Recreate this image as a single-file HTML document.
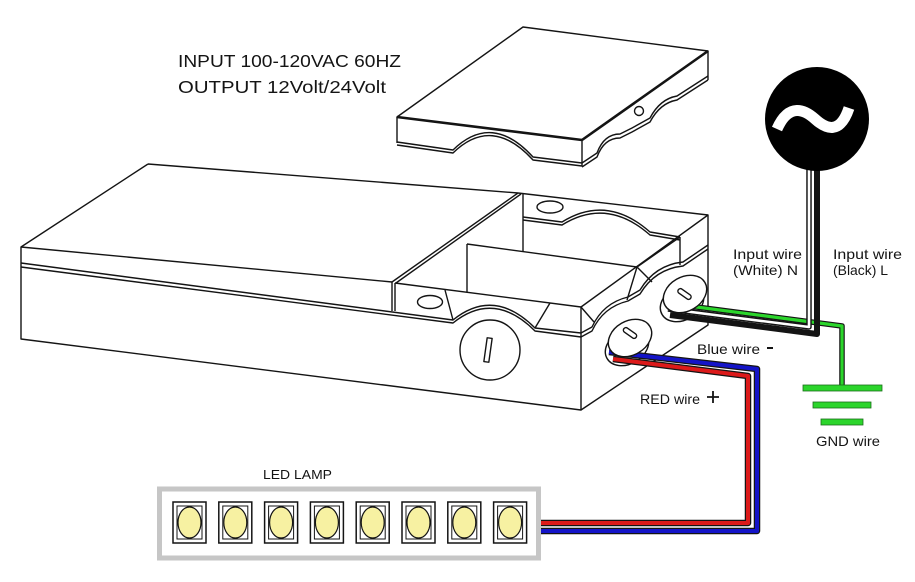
<!DOCTYPE html>
<html><head><meta charset="utf-8"><style>
html,body{margin:0;padding:0;background:#fff;}
svg{display:block;}
text{font-family:"Liberation Sans",sans-serif;fill:#141414;}
</style></head><body>
<svg width="915" height="582" viewBox="0 0 915 582" xmlns="http://www.w3.org/2000/svg">
<rect width="915" height="582" fill="#fff"/>

<!-- Header text -->
<text x="178" y="67" font-size="17.5" textLength="223" lengthAdjust="spacingAndGlyphs">INPUT 100-120VAC 60HZ</text>
<text x="178" y="93" font-size="17.5" textLength="208" lengthAdjust="spacingAndGlyphs">OUTPUT 12Volt/24Volt</text>

<g fill="none" stroke="#141414" stroke-width="1.4" stroke-linejoin="round">
<!-- Floating lid -->
<polygon points="397,117 523,27 708,51 582,140" fill="#fff"/>
<path d="M397,117 L582,140" stroke-width="2.6"/>
<path d="M582,140 L708,51" stroke-width="2.6"/>
<path d="M397,117 L397,143"/>
<path d="M397,142 L453,150 Q492,112 533,157 L582,163"/>
<path d="M397,145 L453,153 Q492,115 533,160 L582,166"/>
<path d="M582,140 L582,166"/>
<path d="M708,51 L708,80"/>
<path d="M582,163 L597,153 Q604,134 620,134 L632,128 L650,118 Q660,99 677,96 L708,76"/>
<path d="M582,167 L597,157 Q604,138 620,138 L632,132 L650,122 Q660,103 677,100 L708,80"/>
<circle cx="639" cy="111" r="4.5"/>

<!-- Main box -->
<path d="M148,164 L21,247 L21,339 L581,410 L708,325 L708,215 L518,193 L148,164"/>
<path d="M21,247 L392,282"/>
<path d="M21,263 L453,320 Q494,287 535,328 L581,333"/>
<path d="M21,267 L453,323 Q494,290 535,331 L581,337"/>
<path d="M392,282 L392,311"/>
<path d="M395,283 L395,311"/>
<path d="M392,282 L518,193"/>
<path d="M396,283 L521,194"/>
<path d="M395,283 L581,307"/>
<path d="M581,307 L581,410"/>
<path d="M581,307 L708,215"/>
<!-- back wall -->
<path d="M523,194 L523,251"/>
<path d="M523,217 L562,222 Q607,194 650,232 L680,237"/>
<path d="M523,220 L562,225 Q607,197 650,235 L680,240"/>
<path d="M680,237 L680,265"/>
<!-- partition -->
<path d="M467,244 L637,267 L680,237"/>
<path d="M467,244 L467,292"/>
<path d="M637,267 L627,300"/>
<path d="M637,267 L652,282"/>
<!-- bevels -->
<path d="M445,290 L453,320"/>
<path d="M550,303 L535,328"/>
<path d="M581,307 L594,322"/>
<!-- right face wavy -->
<path d="M581,333 L592,327 Q603,303 628,297 L640,290 Q655,265 683,262 L708,245"/>
<path d="M581,337 L592,331 Q603,307 628,301 L640,294 Q655,269 683,266 L708,249"/>
<!-- ovals -->
<ellipse cx="430" cy="302" rx="12.5" ry="6.5"/>
<ellipse cx="550" cy="207" rx="13" ry="6"/>
<!-- big knob -->
<circle cx="490" cy="350" r="30" fill="#fff"/>
<rect x="485.5" y="338" width="5" height="24" transform="rotate(8 488 350)"/>
</g>

<!-- knob cylinders (back) -->
<g stroke="#141414" stroke-width="1.4" fill="#fff">
<ellipse cx="682" cy="303" rx="23" ry="17" transform="rotate(-30 682 303)"/>
<ellipse cx="627" cy="347" rx="23" ry="17" transform="rotate(-30 627 347)"/>
</g>

<!-- Input wires -->
<g fill="none" stroke-linejoin="round">
<path d="M666,303 L842,326 L842,388" stroke="#141414" stroke-width="5.5"/>
<path d="M666,303 L842,326 L842,388" stroke="#2bd52b" stroke-width="3.2"/>
<path d="M668,309 L809,327 L809,160" stroke="#141414" stroke-width="5.5"/>
<path d="M668,309 L809,327 L809,160" stroke="#fff" stroke-width="2.6"/>
<path d="M670,315 L817,334 L817,160" stroke="#141414" stroke-width="6"/>
<!-- Output wires -->
<path d="M609,352 L757,369 L757,531 L541,531" stroke="#141414" stroke-width="6.5"/>
<path d="M609,352 L757,369 L757,531 L541,531" stroke="#1414c8" stroke-width="4"/>
<path d="M613,359 L748,376 L748,523 L541,523" stroke="#141414" stroke-width="6.5"/>
<path d="M613,359 L748,376 L748,523 L541,523" stroke="#dc1a1a" stroke-width="4"/>
</g>

<!-- knob tops -->
<g stroke="#141414" stroke-width="1.4" fill="#fff">
<ellipse cx="685" cy="294" rx="23" ry="17" transform="rotate(-30 685 294)"/>
<ellipse cx="630" cy="338" rx="23" ry="17" transform="rotate(-30 630 338)"/>
<rect x="677" y="291.5" width="15" height="5" rx="2.5" transform="rotate(35 684.5 294)"/>
<rect x="622.5" y="330.5" width="15" height="5" rx="2.5" transform="rotate(35 630 333)"/>
</g>

<!-- AC source -->
<circle cx="817" cy="119" r="52" fill="#000"/>
<path d="M777,129 C789,102 805,110 815,119 C826,129 840,135 849,108" fill="none" stroke="#fff" stroke-width="11"/>

<!-- Ground -->
<g fill="#2bd52b" stroke="#1b6d1b" stroke-width="0.8">
<rect x="803" y="385" width="79" height="6"/>
<rect x="813" y="402" width="58" height="6"/>
<rect x="821" y="419" width="42" height="6"/>
</g>

<!-- LED strip -->
<rect x="159.5" y="489" width="379" height="69" fill="#fff" stroke="#c6c6c6" stroke-width="5"/>
<g stroke="#141414" fill="#fff">
<g id="led">
<rect x="173" y="502" width="33" height="41" stroke-width="1.5"/>
<rect x="177" y="506" width="25" height="33" stroke-width="1"/>
<ellipse cx="189.5" cy="522.5" rx="11.5" ry="15.5" fill="#f7f1a2" stroke-width="1.2"/>
</g>
<use href="#led" x="45.8"/>
<use href="#led" x="91.6"/>
<use href="#led" x="137.4"/>
<use href="#led" x="183.2"/>
<use href="#led" x="229"/>
<use href="#led" x="274.8"/>
<use href="#led" x="320.6"/>
</g>

<!-- Labels -->
<text x="263" y="479" font-size="13" textLength="69" lengthAdjust="spacingAndGlyphs">LED LAMP</text>
<text x="733" y="259" font-size="14" textLength="69" lengthAdjust="spacingAndGlyphs">Input wire</text>
<text x="733" y="275" font-size="14" textLength="65" lengthAdjust="spacingAndGlyphs">(White) N</text>
<text x="833" y="259" font-size="14" textLength="69" lengthAdjust="spacingAndGlyphs">Input wire</text>
<text x="833" y="275" font-size="14" textLength="55" lengthAdjust="spacingAndGlyphs">(Black) L</text>
<text x="697" y="354" font-size="14" textLength="63" lengthAdjust="spacingAndGlyphs">Blue wire</text>
<path d="M767,348 L773,348" stroke="#141414" stroke-width="2"/>
<text x="640" y="404" font-size="14" textLength="60" lengthAdjust="spacingAndGlyphs">RED wire</text>
<path d="M707,397 L719,397 M713,391 L713,403" stroke="#141414" stroke-width="1.8"/>
<text x="816" y="446" font-size="14" textLength="64" lengthAdjust="spacingAndGlyphs">GND wire</text>
</svg>
</body></html>
